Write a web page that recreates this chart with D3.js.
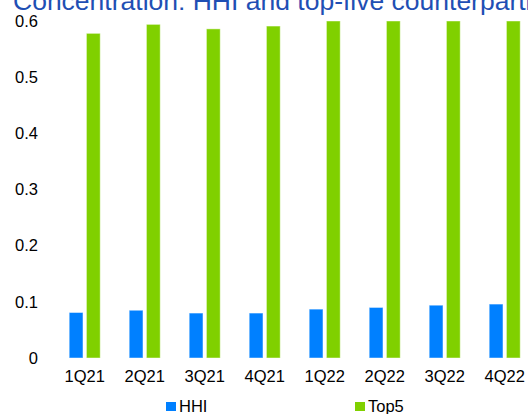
<!DOCTYPE html>
<html>
<head>
<meta charset="utf-8">
<script src="https://cdn.jsdelivr.net/npm/d3@7"></script>
<style>
  html, body { margin: 0; padding: 0; background: #fff; overflow: hidden; }
  svg { display: block; font-family: "Liberation Sans", Arial, sans-serif; }
</style>
</head>
<body>
<svg id="chart" width="528" height="414"></svg>
<script>
const categories = ["1Q21", "2Q21", "3Q21", "4Q21", "1Q22", "2Q22", "3Q22", "4Q22"];
const seriesNames = ["HHI", "Top5"];
const hhi = [0.081, 0.085, 0.080, 0.080, 0.087, 0.090, 0.094, 0.096];
const top5 = [0.578, 0.594, 0.586, 0.591, 0.600, 0.600, 0.600, 0.600];
const yTicks = [0, 0.1, 0.2, 0.3, 0.4, 0.5, 0.6];
const colors = ["#0080ff", "#80d000"];
const titleText = "Concentration: HHI and top-five counterparties";

const svg = d3.select("#chart");

const y = d3.scaleLinear().domain([0, 0.6]).range([358, 21]);
const x0 = d3.scaleBand().domain(categories).range([54.7, 534.7])
  .paddingInner(0.483).paddingOuter(0.2415);
const x1 = d3.scaleBand().domain(seriesNames).range([0, x0.bandwidth()])
  .paddingInner(0.2).paddingOuter(0);
const color = d3.scaleOrdinal().domain(seriesNames).range(colors);

// Title (clipped at top and right as in reference)
svg.append("text")
  .attr("x", 13).attr("y", 10)
  .attr("fill", "#1f4fb4")
  .style("font-size", "26.5px")
  .text(titleText);

// Y axis (labels only)
const yAxis = d3.axisLeft(y).tickValues(yTicks).tickSize(0).tickPadding(0)
  .tickFormat(d => d === 0 ? "0" : d3.format(".1f")(d));
const gy = svg.append("g").attr("transform", "translate(38,0)").call(yAxis);
gy.select(".domain").remove();
gy.selectAll("text").style("font-size", "16.5px").attr("fill", "#000")
  .style("font-family", "Liberation Sans, Arial, sans-serif");

// Bars
const data = categories.map((c, i) => ({ cat: c, vals: [
  { key: "HHI", v: hhi[i] }, { key: "Top5", v: top5[i] }] }));

const groups = svg.append("g").selectAll("g").data(data).join("g")
  .attr("transform", d => `translate(${x0(d.cat)},0)`);
groups.selectAll("rect").data(d => d.vals).join("rect")
  .attr("x", d => x1(d.key))
  .attr("width", x1.bandwidth())
  .attr("y", d => y(d.v))
  .attr("height", d => y(0) - y(d.v))
  .attr("fill", d => color(d.key))
  .attr("stroke", "#ffffff").attr("stroke-opacity", 0.45).attr("stroke-width", 1);

// X axis labels
const xAxis = d3.axisBottom(x0).tickSize(0).tickPadding(0);
const gx = svg.append("g").attr("transform", "translate(0,370)").call(xAxis);
gx.select(".domain").remove();
gx.selectAll("text").style("font-size", "16.5px").attr("fill", "#000")
  .attr("dy", "0.71em")
  .style("font-family", "Liberation Sans, Arial, sans-serif");

// Legend
const legendX = [166, 355];
const legend = svg.append("g").selectAll("g").data(seriesNames).join("g")
  .attr("transform", (d, i) => `translate(${legendX[i]},402)`);
legend.append("rect").attr("width", 10).attr("height", 9).attr("fill", d => color(d));
legend.append("text").attr("x", 13).attr("y", 10)
  .style("font-size", "16.5px").attr("fill", "#000").text(d => d);
</script>
</body>
</html>
